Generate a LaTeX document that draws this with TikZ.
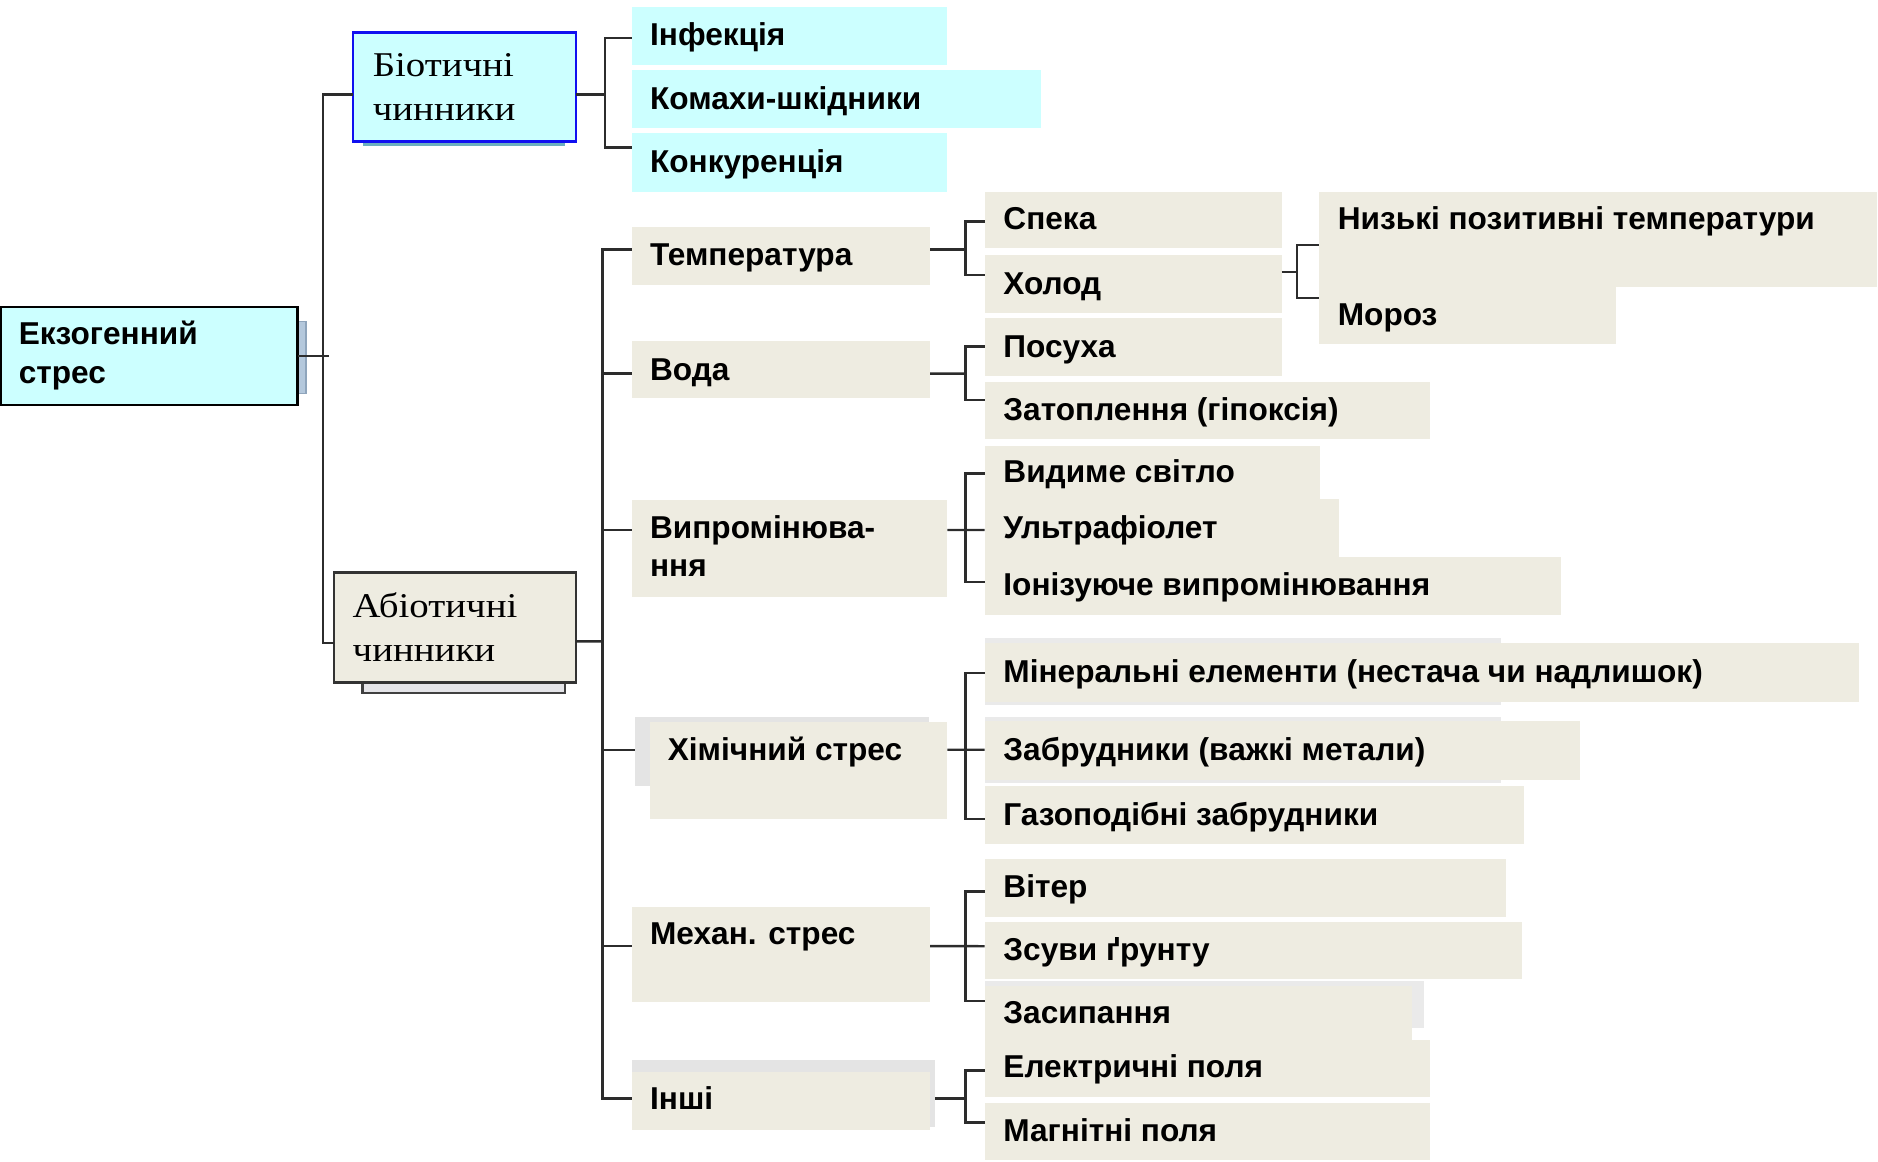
\documentclass[tikz,border=0pt]{standalone}
\usepackage{fontspec}
\setmainfont{Liberation Sans}
\newfontfamily\serifcyr[FakeStretch=1.12]{Liberation Serif}
\usetikzlibrary{calc}
\definecolor{cyanbox}{HTML}{CCFFFF}
\definecolor{beige}{HTML}{EEECE1}
\definecolor{shadowgray}{HTML}{E4E4E4}
\definecolor{faintgray}{HTML}{EAEAEA}
\definecolor{abiosh}{HTML}{E4E4E8}
\definecolor{linec}{HTML}{2C2C2C}
\definecolor{bioblue}{HTML}{1010F0}
\definecolor{steel}{HTML}{B4C8DC}
\definecolor{steeldark}{HTML}{8FA5BC}
\definecolor{bioshadow}{HTML}{6AAFC0}
\newcommand\mybox[7][]{\node[boxst,fill=#7,minimum width={(#4-#2)*0.5pt},minimum height={(#5-#3)*0.5pt},#1] (#6) at ({(#2+#4)/2},{(#3+#5)/2}) {};}
\newcommand\mytext[4]{\node[lbl] (#1) at (#2,#3) {#4};}
\newcommand\myserif[4]{\node[slbl] (#1) at (#2,#3) {#4};}
\begin{document}
\begin{tikzpicture}[x=0.5pt,y=-0.5pt,
  boxst/.style={rectangle,inner sep=0pt,outer sep=0pt,draw=none},
  lbl/.style={inner sep=0pt,outer sep=0pt,anchor=base west,font=\fontsize{13.2}{16}\selectfont\bfseries},
  slbl/.style={inner sep=0pt,outer sep=0pt,anchor=base west,font=\serifcyr\fontsize{14.5}{17}\selectfont},
  conn/.style={draw=linec,line width=1pt}]
\useasboundingbox (0,0) rectangle (1568,970);

% shadows and decorations
\mybox{249}{268.6}{255.5}{328.4}{ekzside}{steel}
\draw[steeldark,line width=0.5pt] (ekzside.north west) rectangle (ekzside.south east);
\mybox{302.7}{115}{471.5}{121.5}{bioshadow}{bioshadow}
\mybox[draw=black!75,line width=1pt]{302.8}{560}{471.7}{578.8}{abioshadow}{abiosh}
\mybox{530}{598.6}{776}{656.3}{khimshadow}{shadowgray}
\mybox{528}{885}{781}{941}{inshishadow}{shadowgray}
\mybox{822}{533}{1253}{589}{minershadow}{faintgray}
\mybox{822}{599}{1253}{654}{zabrshadow}{faintgray}
\mybox{822}{819}{1189}{858}{zasypshadow}{faintgray}

% main boxes
\mybox[draw=black,line width=1pt]{1}{256.5}{248.5}{338}{ekz}{cyanbox}
\mybox[draw=bioblue,line width=1pt]{294.5}{27}{480.8}{118.3}{bio}{cyanbox}
\mybox[draw=black!80,line width=1pt]{278.8}{478}{480.9}{569.7}{abio}{beige}

% level 2
\mybox{527.4}{5.6}{791}{54.3}{inf}{cyanbox}
\mybox{527.4}{58.4}{869}{106.6}{kom}{cyanbox}
\mybox{527.4}{111.3}{791}{160}{konk}{cyanbox}
\mybox{527.4}{189.3}{776.5}{238}{temp}{beige}
\mybox{527.4}{284.7}{776.5}{332.5}{voda}{beige}
\mybox{527.4}{417.5}{791}{498.2}{vyp}{beige}
\mybox{543}{603}{791}{683.7}{khim}{beige}
\mybox{527.4}{757.1}{776.5}{836.8}{mekh}{beige}
\mybox{528}{894.8}{776.5}{943.5}{inshi}{beige}

% level 3
\mybox{822}{160}{1070}{207}{speka}{beige}
\mybox{822}{213}{1070}{261}{holod}{beige}
\mybox{1101}{160}{1567}{239.4}{nyz}{beige}
\mybox{1101}{239.4}{1349.5}{287.5}{moroz}{beige}
\mybox{822}{265.6}{1070}{313.9}{posukha}{beige}
\mybox{822}{318.7}{1194}{366.8}{zatop}{beige}
\mybox{822}{372.4}{1102}{416.7}{vydyme}{beige}
\mybox{822}{416.7}{1118}{464.8}{uf}{beige}
\mybox{822}{464.8}{1303}{513.5}{ioniz}{beige}
\mybox{822}{536.9}{1551.7}{585.8}{miner}{beige}
\mybox{822}{602.2}{1318.9}{651.2}{zabr}{beige}
\mybox{822}{656.3}{1272}{704.7}{gaz}{beige}
\mybox{822}{716.8}{1257.5}{765.2}{viter}{beige}
\mybox{822}{770}{1271}{817.6}{zsuv}{beige}
\mybox{822}{823}{1179}{868}{zasyp}{beige}
\mybox{822}{868}{1194}{915.5}{elektr}{beige}
\mybox{822}{921.3}{1194}{968.8}{magn}{beige}

% junction coordinates
\coordinate (jE) at (275,297.25);
\coordinate (tr) at (269.5,297.25);
\coordinate (jB) at (505,78.75);
\coordinate (jA) at (503,535.5);
\coordinate (jT) at (806,208.15);
\coordinate (jH) at (1083,227);
\coordinate (jV) at (806,312);
\coordinate (jR) at (806,442.5);
\coordinate (jC) at (806,626);
\coordinate (jM) at (806,790);
\coordinate (jI) at (806,917);

% connectors
\draw[conn] (ekz.east) -- (jE);
\draw[conn] ($(bio.west)+(0,6.1)$) -| (tr) |- ($(abio.west)+(0,12.75)$);
\draw[conn] ($(bio.east)+(0,6.1)$) -- (jB);
\draw[conn] ($(inf.west)+(0,2)$) -| (jB) |- ($(konk.west)+(0,-12.6)$);
\draw[conn] ($(abio.east)+(0,11.65)$) -- (jA);
\draw[conn] ($(temp.west)+(0,-5.5)$) -| (jA) |- ($(inshishadow.west)+(0,4)$);
\draw[conn] ($(voda.west)+(0,3.4)$) -| (jA);
\draw[conn] ($(vyp.west)+(0,-15.35)$) -| (jA);
\draw[conn] ($(khimshadow.west)+(0,-1.45)$) -| (jA);
\draw[conn] ($(mekh.west)+(0,-7)$) -| (jA);

\draw[conn] ($(temp.east)+(0,-5.5)$) -- (jT);
\draw[conn] ($(speka.west)+(0,1.5)$) -| (jT) |- ($(holod.west)+(0,-7.4)$);
\draw[conn] ($(holod.east)+(0,-10)$) -- (jH);
\draw[conn] ($(nyz.west)+(0,4.9)$) -| (jH) |- ($(moroz.west)+(0,-14.45)$);
\draw[conn] ($(voda.east)+(0,3.4)$) -- (jV);
\draw[conn] ($(posukha.west)+(0,-0.35)$) -| (jV) |- ($(zatop.west)+(0,-8.75)$);
\draw[conn] ($(vyp.east)+(0,-15.35)$) -- ($(uf.west)+(0,1.75)$);
\draw[conn] ($(vydyme.west)+(0,0.7)$) -| (jR) |- ($(ioniz.west)+(0,-3.45)$);
\draw[conn] ($(khim.east)+(0,-17.35)$) -- ($(zabr.west)+(0,-0.7)$);
\draw[conn] ($(miner.west)+(0,0.65)$) -| (jC) |- ($(gaz.west)+(0,3.2)$);
\draw[conn] ($(mekh.east)+(0,-7)$) -- ($(zsuv.west)+(0,-3.8)$);
\draw[conn] ($(viter.west)+(0,3.2)$) -| (jM) |- ($(zasyp.west)+(0,-9.7)$);
\draw[conn] ($(inshishadow.east)+(0,4)$) -- (jI);
\draw[conn] ($(elektr.west)+(0,2.15)$) -| (jI) |- ($(magn.west)+(0,-8)$);

% texts
\mytext{t-ekz1}{15.7}{288}{Екзогенний}
\mytext{t-ekz2}{15.7}{320.6}{стрес}
\myserif{t-bio1}{311.3}{63.5}{Біотичні}
\myserif{t-bio2}{311.3}{100.2}{чинники}
\myserif{t-abio1}{294.5}{515.4}{Абіотичні}
\myserif{t-abio2}{294.5}{551.9}{чинники}

\mytext{t-inf}{542.8}{38.1}{Інфекція}
\mytext{t-kom}{542.8}{91.3}{Комахи-шкідники}
\mytext{t-konk}{542.8}{143.9}{Конкуренція}
\mytext{t-temp}{542.8}{222}{Температура}
\mytext{t-voda}{542.8}{317.3}{Вода}
\mytext{t-vyp1}{542.8}{449.5}{Випромінюва-}
\mytext{t-vyp2}{542.8}{481.5}{ння}
\mytext{t-khim}{557.6}{634.8}{Хімічний стрес}
\mytext{t-mekh}{542.8}{788.8}{Механ. стрес}
\mytext{t-inshi}{542.8}{926.4}{Інші}

\mytext{t-speka}{837.8}{192}{Спека}
\mytext{t-holod}{837.8}{245.5}{Холод}
\mytext{t-nyz}{1117}{192}{Низькі позитивні температури}
\mytext{t-moroz}{1117}{271.4}{Мороз}
\mytext{t-posukha}{837.8}{298.3}{Посуха}
\mytext{t-zatop}{837.8}{351.3}{Затоплення (гіпоксія)}
\mytext{t-vydyme}{837.8}{403}{Видиме світло}
\mytext{t-uf}{837.8}{449.3}{Ультрафіолет}
\mytext{t-ioniz}{837.8}{497.6}{Іонізуюче випромінювання}
\mytext{t-miner}{837.8}{569.8}{Мінеральні елементи (нестача чи надлишок)}
\mytext{t-zabr}{837.8}{635.2}{Забрудники (важкі метали)}
\mytext{t-gaz}{837.8}{689}{Газоподібні забрудники}
\mytext{t-viter}{837.8}{749.5}{Вітер}
\mytext{t-zsuv}{837.8}{802.3}{Зсуви ґрунту}
\mytext{t-zasyp}{837.8}{854.5}{Засипання}
\mytext{t-elektr}{837.8}{899.6}{Електричні поля}
\mytext{t-magn}{837.8}{953}{Магнітні поля}
\end{tikzpicture}
\end{document}
